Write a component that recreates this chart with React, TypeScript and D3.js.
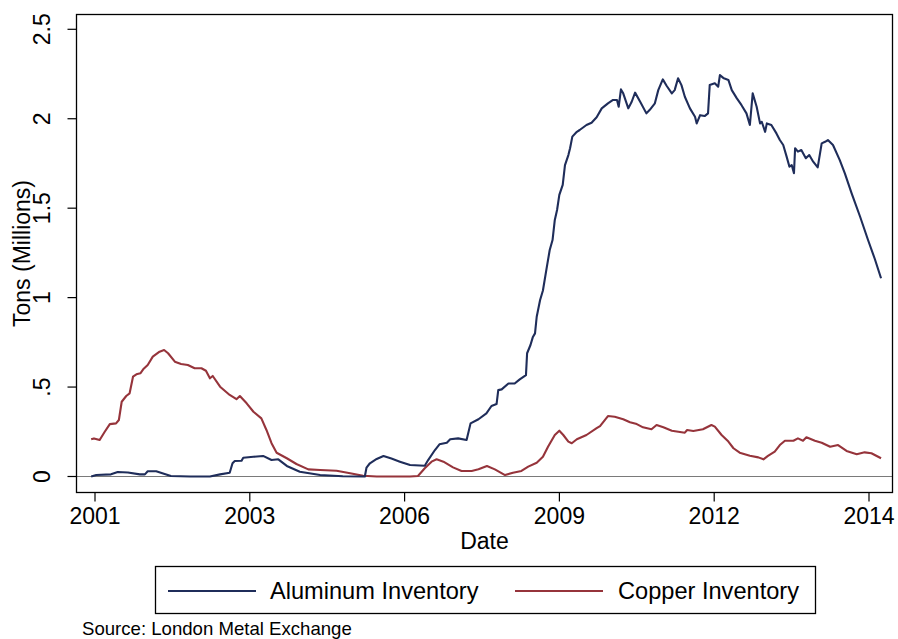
import React from "react";
import * as d3 from "d3";

// decimal year, value (tons, millions)
const aluminumYears = [2001.00,2001.09,2001.35,2001.47,2001.65,2001.86,2001.95,2002.00,2002.15,2002.30,2002.41,2002.75,2003.10,2003.28,2003.45,2003.50,2003.54,2003.66,2003.69,2003.87,2004.04,2004.19,2004.31,2004.46,2004.69,2005.05,2005.45,2005.84,2005.87,2005.93,2006.05,2006.17,2006.31,2006.46,2006.64,2006.90,2006.96,2007.08,2007.16,2007.29,2007.35,2007.49,2007.64,2007.71,2007.85,2007.99,2008.08,2008.17,2008.20,2008.26,2008.38,2008.49,2008.58,2008.69,2008.71,2008.77,2008.81,2008.85,2008.88,2008.94,2008.99,2009.06,2009.11,2009.16,2009.20,2009.24,2009.28,2009.34,2009.38,2009.44,2009.47,2009.51,2009.59,2009.64,2009.76,2009.85,2009.94,2010.03,2010.14,2010.23,2010.30,2010.33,2010.37,2010.41,2010.50,2010.56,2010.62,2010.71,2010.82,2010.88,2010.97,2011.03,2011.11,2011.18,2011.27,2011.32,2011.38,2011.44,2011.50,2011.59,2011.68,2011.71,2011.77,2011.85,2011.91,2011.94,2012.03,2012.09,2012.12,2012.19,2012.27,2012.33,2012.42,2012.50,2012.59,2012.65,2012.70,2012.77,2012.83,2012.86,2012.92,2012.95,2013.03,2013.12,2013.18,2013.24,2013.30,2013.35,2013.39,2013.43,2013.45,2013.50,2013.56,2013.64,2013.70,2013.77,2013.85,2013.92,2013.98,2014.03,2014.12,2014.24,2014.33,2014.45,2014.60,2014.74,2014.86,2014.97];
const aluminumValues = [0,0.008,0.012,0.025,0.022,0.012,0.012,0.029,0.029,0.014,0.003,0,0,0.012,0.021,0.074,0.087,0.088,0.105,0.11,0.115,0.092,0.096,0.059,0.027,0.008,0.001,0,0.05,0.074,0.098,0.115,0.10,0.083,0.064,0.06,0.092,0.148,0.18,0.189,0.208,0.213,0.204,0.297,0.32,0.353,0.394,0.405,0.483,0.487,0.52,0.52,0.543,0.567,0.689,0.735,0.778,0.80,0.893,0.987,1.04,1.173,1.266,1.322,1.434,1.49,1.574,1.63,1.741,1.797,1.835,1.9,1.927,1.937,1.965,1.978,2.008,2.058,2.086,2.105,2.105,2.067,2.164,2.142,2.058,2.095,2.146,2.095,2.03,2.05,2.086,2.16,2.22,2.183,2.142,2.16,2.226,2.188,2.123,2.058,2.011,1.974,2.02,2.015,2.03,2.188,2.198,2.179,2.244,2.226,2.217,2.16,2.114,2.077,2.03,1.965,2.142,2.067,1.974,1.983,1.927,1.974,1.965,1.918,1.881,1.853,1.788,1.732,1.741,1.695,1.835,1.816,1.825,1.779,1.797,1.76,1.728,1.862,1.871,1.881,1.853,1.769,1.695,1.583,1.452,1.322,1.216,1.108];

const copperYears = [2001.00,2001.05,2001.15,2001.24,2001.33,2001.44,2001.49,2001.54,2001.62,2001.68,2001.74,2001.80,2001.87,2001.92,2002.00,2002.09,2002.21,2002.29,2002.36,2002.48,2002.59,2002.71,2002.83,2002.95,2003.03,2003.10,2003.15,2003.28,2003.45,2003.57,2003.63,2003.75,2003.87,2004.01,2004.10,2004.19,2004.28,2004.46,2004.63,2004.84,2005.05,2005.34,2005.58,2005.81,2006.05,2006.64,2006.78,2006.90,2007.02,2007.11,2007.23,2007.40,2007.55,2007.73,2007.85,2008.00,2008.14,2008.32,2008.46,2008.61,2008.73,2008.88,2008.99,2009.08,2009.20,2009.28,2009.35,2009.44,2009.50,2009.59,2009.76,2009.94,2010.00,2010.14,2010.26,2010.41,2010.53,2010.65,2010.76,2010.91,2011.00,2011.12,2011.27,2011.50,2011.54,2011.65,2011.82,2011.97,2012.03,2012.15,2012.27,2012.36,2012.47,2012.65,2012.80,2012.89,2012.97,2013.09,2013.18,2013.27,2013.42,2013.50,2013.59,2013.65,2013.80,2013.92,2014.07,2014.21,2014.36,2014.54,2014.68,2014.80,2014.97];
const copperValues = [0.208,0.213,0.204,0.25,0.293,0.297,0.316,0.418,0.45,0.465,0.558,0.571,0.577,0.599,0.623,0.67,0.698,0.707,0.689,0.642,0.629,0.623,0.605,0.605,0.591,0.549,0.562,0.502,0.456,0.432,0.45,0.409,0.362,0.325,0.26,0.186,0.133,0.102,0.07,0.04,0.036,0.032,0.018,0.004,0,0,0.003,0.046,0.083,0.096,0.083,0.051,0.031,0.031,0.04,0.059,0.04,0.008,0.021,0.031,0.055,0.077,0.11,0.166,0.232,0.256,0.232,0.195,0.186,0.208,0.232,0.27,0.282,0.338,0.334,0.32,0.303,0.293,0.275,0.264,0.288,0.275,0.256,0.245,0.26,0.254,0.264,0.288,0.279,0.232,0.195,0.158,0.133,0.116,0.107,0.096,0.115,0.139,0.176,0.2,0.2,0.213,0.2,0.219,0.2,0.189,0.166,0.176,0.143,0.124,0.135,0.13,0.102];

// x ticks in days since 1960-01-01 (Stata daily dates)
const xTickDays = [15000, 16000, 17000, 18000, 19000, 20000];
const yTicks = [0, 0.5, 1, 1.5, 2, 2.5];
const yTickLabels = ["0", ".5", "1", "1.5", "2", "2.5"];
const seriesNames = ["Aluminum Inventory", "Copper Inventory"];
const seriesColors = ["#1f2d5a", "#96343b"];

const W = 898, H = 639;
const FONT = "'Liberation Sans', Arial, Helvetica, sans-serif";

export default function App() {
  const left = 76.5, right = 892.5, top = 14.5, bottom = 492.5;
  const dayToYear = (d: number) => 1960 + d / 365.25;
  const x = d3.scaleLinear()
    .domain([dayToYear(xTickDays[0]), dayToYear(xTickDays[xTickDays.length - 1])])
    .range([95, 869]);
  const y = d3.scaleLinear().domain([0, 2.5]).range([476.5, 29.3]);

  const line = d3.line<[number, number]>().x(d => x(d[0])).y(d => y(d[1]));
  const alu: [number, number][] = aluminumYears.map((t, i) => [t, aluminumValues[i]]);
  const cu: [number, number][] = copperYears.map((t, i) => [t, copperValues[i]]);

  return (
    <svg width={W} height={H} style={{ position: "absolute", left: 0, top: 0, background: "#fff" }} fontFamily={FONT}>
      <rect x={0} y={0} width={W} height={H} fill="#fff" />
      {/* zero line */}
      <line x1={left} x2={right} y1={y(0)} y2={y(0)} stroke="#7a7a7a" strokeWidth={1.2} />
      {/* series */}
      <path d={line(cu) || ""} fill="none" stroke={seriesColors[1]} strokeWidth={2.1} strokeLinejoin="round" />
      <path d={line(alu) || ""} fill="none" stroke={seriesColors[0]} strokeWidth={2.1} strokeLinejoin="round" />
      {/* frame */}
      <rect x={left} y={top} width={right - left} height={bottom - top} fill="none" stroke="#000" strokeWidth={1.3} />
      {/* y ticks */}
      {yTicks.map((v, i) => (
        <g key={"y" + i}>
          <line x1={left - 9} x2={left} y1={y(v)} y2={y(v)} stroke="#000" strokeWidth={1.2} />
          <text transform={`translate(50,${y(v)}) rotate(-90)`} textAnchor="middle" fontSize={23} fill="#000">{yTickLabels[i]}</text>
        </g>
      ))}
      <text transform={`translate(30,${(top + bottom) / 2}) rotate(-90)`} textAnchor="middle" fontSize={23} fill="#000">Tons (Millions)</text>
      {/* x ticks */}
      {xTickDays.map((d, i) => (
        <g key={"x" + i}>
          <line x1={x(dayToYear(d))} x2={x(dayToYear(d))} y1={bottom} y2={bottom + 9} stroke="#000" strokeWidth={1.2} />
          <text x={x(dayToYear(d))} y={523.5} textAnchor="middle" fontSize={23} fill="#000">{Math.floor(dayToYear(d))}</text>
        </g>
      ))}
      <text x={(left + right) / 2} y={549} textAnchor="middle" fontSize={23} fill="#000">Date</text>
      {/* legend */}
      <rect x={155.5} y={566.5} width={660} height={47} fill="#fff" stroke="#000" strokeWidth={1.3} />
      <line x1={168} x2={256} y1={591} y2={591} stroke={seriesColors[0]} strokeWidth={2} />
      <text x={270} y={599} fontSize={23.6} fill="#000">{seriesNames[0]}</text>
      <line x1={515} x2={603} y1={591} y2={591} stroke={seriesColors[1]} strokeWidth={2} />
      <text x={618} y={599} fontSize={23.6} fill="#000">{seriesNames[1]}</text>
      <text x={82} y={634.5} fontSize={18.6} fill="#000">Source: London Metal Exchange</text>
    </svg>
  );
}
